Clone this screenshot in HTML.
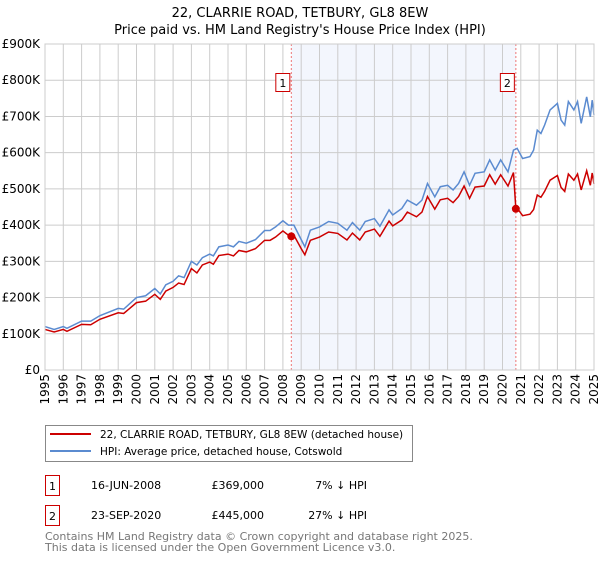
<!DOCTYPE html>
<html><head><meta charset="utf-8"><style>
body{margin:0;background:#fff;font-family:"DejaVu Sans","Liberation Sans",sans-serif;}
svg text{font-family:"DejaVu Sans","Liberation Sans",sans-serif;}
</style></head><body>
<svg id="c" width="600" height="560" xmlns="http://www.w3.org/2000/svg">
<text x="300" y="17" text-anchor="middle" font-size="13">22, CLARRIE ROAD, TETBURY, GL8 8EW</text>
<text x="300" y="34" text-anchor="middle" font-size="13">Price paid vs. HM Land Registry's House Price Index (HPI)</text>
<g id="plot"></g>
<g>
<rect x="45.5" y="425.5" width="367" height="36" fill="#fff" stroke="#888"/>
<line x1="50" y1="434" x2="91" y2="434" stroke="#cc0000" stroke-width="2"/>
<text x="100" y="438" font-size="10.5">22, CLARRIE ROAD, TETBURY, GL8 8EW (detached house)</text>
<line x1="50" y1="451" x2="91" y2="451" stroke="#5b8bd0" stroke-width="2"/>
<text x="100" y="455" font-size="10.5">HPI: Average price, detached house, Cotswold</text>
</g>
<g font-size="11">
<rect x="45.5" y="475.5" width="14" height="20" fill="none" stroke="#cc0000"/>
<text x="52.5" y="490" text-anchor="middle">1</text>
<text x="91" y="489">16-JUN-2008</text><text x="264" y="489" text-anchor="end">£369,000</text><text x="367" y="489" text-anchor="end">7% ↓ HPI</text>
<rect x="45.5" y="505.5" width="14" height="20" fill="none" stroke="#cc0000"/>
<text x="52.5" y="520" text-anchor="middle">2</text>
<text x="91" y="519">23-SEP-2020</text><text x="264" y="519" text-anchor="end">£445,000</text><text x="367" y="519" text-anchor="end">27% ↓ HPI</text>
</g>
<text x="45" y="540" font-size="11" fill="#777">Contains HM Land Registry data © Crown copyright and database right 2025.</text>
<text x="45" y="551" font-size="11" fill="#777">This data is licensed under the Open Government Licence v3.0.</text>
</svg>
<script>
const yTicks=[0,100,200,300,400,500,600,700,800,900];
const yTickLabels=["£0","£100K","£200K","£300K","£400K","£500K","£600K","£700K","£800K","£900K"];
const xYears=[1995,1996,1997,1998,1999,2000,2001,2002,2003,2004,2005,2006,2007,2008,2009,2010,2011,2012,2013,2014,2015,2016,2017,2018,2019,2020,2021,2022,2023,2024,2025];
const hpiT=[1995,1995.5,1996,1996.2,1997,1997.5,1998,1999,1999.3,2000,2000.5,2001,2001.3,2001.6,2002,2002.3,2002.6,2003,2003.3,2003.6,2004,2004.2,2004.5,2005,2005.3,2005.6,2006,2006.5,2007,2007.3,2007.6,2008,2008.3,2008.6,2009,2009.2,2009.5,2010,2010.5,2011,2011.5,2011.8,2012.2,2012.5,2013,2013.3,2013.8,2014,2014.5,2014.8,2015.3,2015.6,2015.9,2016.3,2016.6,2017,2017.3,2017.6,2017.9,2018.2,2018.5,2019,2019.3,2019.6,2019.9,2020.3,2020.6,2020.8,2021.1,2021.5,2021.7,2021.9,2022.1,2022.3,2022.6,2023,2023.2,2023.4,2023.6,2023.9,2024.1,2024.3,2024.6,2024.8,2024.9,2025];
const hpiV=[120,112,120,115,135,135,150,170,168,200,205,225,210,235,245,260,255,300,290,310,320,315,340,345,340,355,350,360,385,385,395,412,400,400,360,340,386,395,410,405,386,407,386,410,418,397,442,428,446,469,455,469,515,478,506,510,497,515,547,510,543,547,580,552,580,547,607,612,584,589,607,662,653,676,718,736,690,676,741,718,741,681,754,699,745,704];
const redT=[1995,1995.5,1996,1996.2,1997,1997.5,1998,1999,1999.3,2000,2000.5,2001,2001.3,2001.6,2002,2002.3,2002.6,2003,2003.3,2003.6,2004,2004.2,2004.5,2005,2005.3,2005.6,2006,2006.5,2007,2007.3,2007.6,2008,2008.3,2008.46,2008.6,2009,2009.2,2009.5,2010,2010.5,2011,2011.5,2011.8,2012.2,2012.5,2013,2013.3,2013.8,2014,2014.5,2014.8,2015.3,2015.6,2015.9,2016.3,2016.6,2017,2017.3,2017.6,2017.9,2018.2,2018.5,2019,2019.3,2019.6,2019.9,2020.3,2020.6,2020.73,2020.8,2021.1,2021.5,2021.7,2021.9,2022.1,2022.3,2022.6,2023,2023.2,2023.4,2023.6,2023.9,2024.1,2024.3,2024.6,2024.8,2024.9,2025];
const redV=[112,105,112,107,126,125,140,158,156,186,190,209,195,218,228,240,236,280,268,290,298,292,316,320,315,330,326,335,358,358,367,384,372,369,372,335,318,358,367,381,377,359,378,359,381,389,369,411,398,414,436,423,436,479,444,470,474,462,479,508,474,505,508,539,513,539,508,545,445,447,426,430,443,483,477,493,524,537,504,493,541,524,541,497,550,510,544,514];
const sales=[{n:"1",t:2008.46,v:369},{n:"2",t:2020.73,v:445}];
const L=45,R=594,T=44,B=370,NS="http://www.w3.org/2000/svg";
const X=t=>L+(t-1995)/30*(R-L), Y=v=>B-v/900*(B-T);
const g=document.getElementById('plot');
function el(tag,a,p){const e=document.createElementNS(NS,tag);for(const k in a)e.setAttribute(k,a[k]);(p||g).appendChild(e);return e;}
const sh=el('rect',{x:X(sales[0].t),y:T,width:X(sales[1].t)-X(sales[0].t),height:B-T,fill:'#f3f6fd'});


yTicks.forEach((v,i)=>{
 const ln=el('line',{x1:L,x2:R,y1:Y(v),y2:Y(v),stroke:'#ccc'});
 
 
 const tx=el('text',{x:40,y:Y(v)+4,'text-anchor':'end','font-size':12});
 
 
 tx.textContent=yTickLabels[i];
});
xYears.forEach(yr=>{
 const ln=el('line',{x1:X(yr),x2:X(yr),y1:T,y2:B,stroke:'#ccc'});
 
 
 const tx=el('text',{x:0,y:0,'text-anchor':'end','font-size':12,transform:`translate(${X(yr)+4},374) rotate(-90)`});
 
 
 tx.textContent=yr;
});
sales.forEach(s=>{
 const ln=el('line',{x1:X(s.t),x2:X(s.t),y1:T,y2:B,stroke:'#ee7777','stroke-dasharray':'2,2'});
 
 
 const bx=el('rect',{x:X(s.t)-15.5,y:73.5,width:14,height:18,fill:'#fff',stroke:'#cc0000'});
 
 
 const tx=el('text',{x:X(s.t)-8.5,y:87,'text-anchor':'middle','font-size':11});
 
 
 tx.textContent=s.n;
});
const hp=el('polyline',{points:hpiT.map((t,i)=>X(t)+','+Y(hpiV[i])).join(' '),fill:'none',stroke:'#5b8bd0','stroke-width':1.5});


const rp=el('polyline',{points:redT.map((t,i)=>X(t)+','+Y(redV[i])).join(' '),fill:'none',stroke:'#cc0000','stroke-width':1.5});


sales.forEach(s=>{
 const c=el('circle',{cx:X(s.t),cy:Y(s.v),r:4,fill:'#cc0000'});
 
 
});
const ax=el('rect',{x:L,y:T,width:R-L,height:B-T,fill:'none',stroke:'#ccc'});


</script>
</body></html>
